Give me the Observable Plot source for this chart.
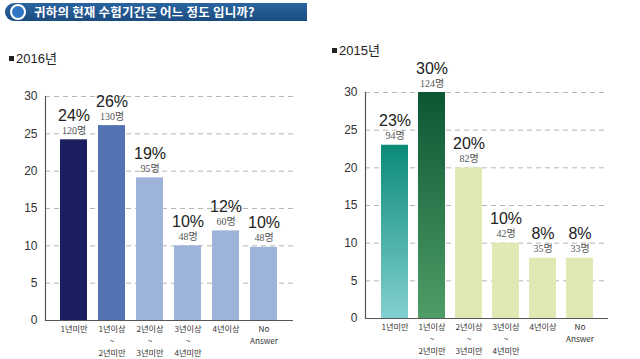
<!DOCTYPE html>
<html>
<head>
<meta charset="utf-8">
<script src="https://cdn.jsdelivr.net/npm/d3@7"></script>
<script src="https://cdn.jsdelivr.net/npm/@observablehq/plot@0.6"></script>
<style>
  html, body { margin: 0; padding: 0; background: #fff; }
  #root { position: relative; width: 640px; height: 359px; overflow: hidden; font-family: "Liberation Sans", Arial, sans-serif; }
  .header { position: absolute; left: 5px; top: 3px; width: 302px; height: 18px; border-radius: 9px 0 0 9px;
    background: linear-gradient(#2b64a0, #1b4c80); color: #fff; font-family: "Noto Sans CJK KR", sans-serif; font-weight: 700;
    font-size: 12.5px; line-height: 18px; box-sizing: border-box; padding-left: 29px; letter-spacing: 0.2px; }
  .header .dot { position: absolute; left: 5px; top: 1px; width: 12px; height: 12px; border-radius: 50%; border: 2px solid #fff; background: #2f76c4; }
  .ptitle { position: absolute; font-family: "Liberation Sans", "Noto Sans CJK KR", sans-serif; font-size: 13px; color: #222; }
  .ptitle .sq { display: inline-block; width: 5px; height: 5px; background: #222; margin-right: 2px; vertical-align: 2px; }
  .plot { position: absolute; }
</style>
</head>
<body>
<div id="root">
  <div class="header"><span class="dot"></span>귀하의 현재 수험기간은 어느 정도 입니까?</div>
  <div class="ptitle" style="left:9px; top:48px;"><span class="sq"></span>2016년</div>
  <div class="ptitle" style="left:332px; top:40px;"><span class="sq"></span>2015년</div>
  <div class="plot" id="p2016" style="left:0px; top:60px;"></div>
  <div class="plot" id="p2015" style="left:320px; top:55px;"></div>
</div>
<script>
const categories = ["1년미만", "1년이상~2년미만", "2년이상~3년미만", "3년이상~4년미만", "4년이상", "No Answer"];
const tickLabels = ["1년미만", "1년이상\n~\n2년미만", "2년이상\n~\n3년미만", "3년이상\n~\n4년미만", "4년이상", "No\nAnswer"];
const values2016 = [24.2, 26.1, 19.1, 10, 12, 9.8];
const pct2016 = ["24%", "26%", "19%", "10%", "12%", "10%"];
const counts2016 = ["120명", "130명", "95명", "48명", "60명", "48명"];
const values2015 = [23, 30, 20, 10, 8, 8];
const pct2015 = ["23%", "30%", "20%", "10%", "8%", "8%"];
const counts2015 = ["94명", "124명", "82명", "42명", "35명", "33명"];
const yTicks = [0, 5, 10, 15, 20, 25, 30];

const colors2016 = ["#1b1f5f", "#5272b3", "#9db3d9", "#9db3d9", "#9db3d9", "#9db3d9"];
const colors2015 = ["url(#g15a)", "url(#g15b)", "#dfe9b4", "#dfe9b4", "#dfe9b4", "#dfe9b4"];

function defsMark(html) {
  return () => {
    const d = document.createElementNS("http://www.w3.org/2000/svg", "defs");
    d.innerHTML = html;
    return d;
  };
}

function makeChart({values, pct, counts, colors, width, height, marginTop, marginBottom, marginLeft, marginRight, padIn, padOut, defs}) {
  const data = categories.map((c, i) => ({cat: c, v: values[i], pct: pct[i], n: counts[i]}));
  const labelOf = new Map(categories.map((c, i) => [c, tickLabels[i]]));
  return Plot.plot({
    width, height, marginTop, marginBottom, marginLeft, marginRight,
    style: {background: "transparent", fontFamily: "Liberation Sans, Arial, sans-serif", overflow: "visible"},
    x: {domain: categories, paddingInner: padIn, paddingOuter: padOut, axis: null},
    y: {domain: [0, 30], axis: null},
    color: {type: "ordinal", domain: categories, range: colors},
    marks: [
      defsMark(defs || ""),
      Plot.ruleY(yTicks.filter(t => t > 0), {stroke: "#b5b5b5", strokeDasharray: "5,4", strokeWidth: 1}),
      Plot.barY(data, {x: "cat", y: "v", fill: "cat"}),
      Plot.ruleY([0], {stroke: "#555", strokeWidth: 1.2}),
      Plot.axisY({ticks: yTicks, tickSize: 0, tickPadding: 8, fontSize: 12, color: "#333", label: null}),
      Plot.axisX({tickSize: 0, tickPadding: 3, fontSize: 8.2, lineHeight: 1.46, color: "#333", label: null,
        tickFormat: d => labelOf.get(d), fontFamily: "Noto Sans CJK KR, sans-serif"}),
      Plot.text(data, {x: "cat", y: "v", text: "pct", dy: -19, lineAnchor: "bottom", fontSize: 16, fill: "#222"}),
      Plot.text(data, {x: "cat", y: "v", text: "n", dy: -6, lineAnchor: "bottom", fontSize: 10, fill: "#555",
        fontFamily: "Liberation Serif, Noto Sans CJK KR, serif"}),
      Plot.frame({anchor: "left", stroke: "#555", strokeWidth: 1.2})
    ]
  });
}

const c16 = makeChart({values: values2016, pct: pct2016, counts: counts2016, colors: colors2016,
  width: 310, height: 299, marginTop: 36, marginBottom: 39, marginLeft: 45, marginRight: 17, padIn: 0.28, padOut: 0.32});
document.getElementById("p2016").appendChild(c16);

const g15 = `
<linearGradient id="g15a" x1="0" y1="0" x2="0" y2="1">
  <stop offset="0" stop-color="#0a8a76"/><stop offset="1" stop-color="#82cfd0"/>
</linearGradient>
<linearGradient id="g15b" x1="0" y1="0" x2="0" y2="1">
  <stop offset="0" stop-color="#0b5733"/><stop offset="1" stop-color="#4e9d67"/>
</linearGradient>`;
const c15 = makeChart({values: values2015, pct: pct2015, counts: counts2015, colors: colors2015, defs: g15,
  width: 310, height: 304, marginTop: 37, marginBottom: 41, marginLeft: 45, marginRight: 22, padIn: 0.28, padOut: 0.34});
document.getElementById("p2015").appendChild(c15);
</script>
</body>
</html>
